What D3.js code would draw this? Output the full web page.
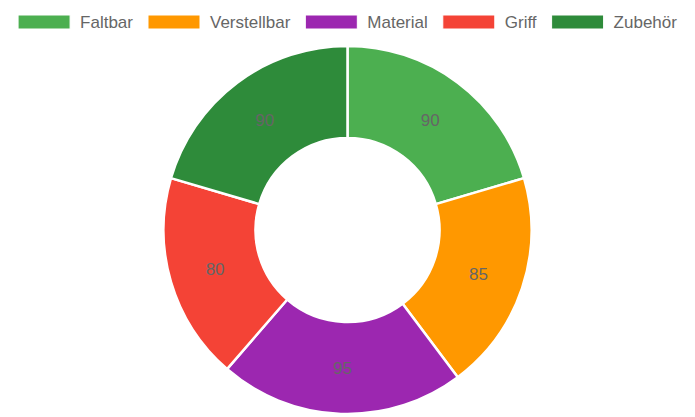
<!DOCTYPE html>
<html><head><meta charset="utf-8">
<script src="https://cdn.jsdelivr.net/npm/d3@7"></script>
<style>html,body{margin:0;padding:0;background:#fff;}svg{display:block;}</style>
</head><body>
<svg id="c" width="695" height="417"></svg>
<script>
const categories = ["Faltbar", "Verstellbar", "Material", "Griff", "Zubehör"];
const values = [90, 85, 95, 80, 90];
const colors = ["#4CAF50", "#FF9800", "#9C27B0", "#F44336", "#2E8B3A"];

const W = 695, H = 417;
const svg = d3.select("#c");
const font = "'Liberation Sans', Arial, Helvetica, sans-serif";

// Legend
const legend = svg.append("g");
const boxW = 52, boxH = 14, textGap = 10, itemGap = 15, legendY = 15;
const items = legend.selectAll("g").data(categories).join("g");
items.append("rect").attr("width", boxW).attr("height", boxH)
  .attr("fill", (d, i) => colors[i]).attr("stroke", "#fff").attr("stroke-width", 1);
items.append("text").text(d => d).attr("x", boxW + textGap).attr("y", boxH / 2)
  .attr("dy", "0.36em").attr("font-family", font).attr("font-size", 17).attr("fill", "#666");
let x = 0; const xs = [];
items.each(function () {
  const tw = d3.select(this).select("text").node().getComputedTextLength();
  xs.push(x); x += boxW + textGap + tw + itemGap;
});
const total = x - itemGap;
const startX = (W - total) / 2;
items.attr("transform", (d, i) => `translate(${startX + xs[i]},${legendY})`);

// Donut
const cx = 347.5, cy = 230, outerR = 184, innerR = 92;
const pie = d3.pie().sort(null).value(d => d)(values);
const arc = d3.arc().innerRadius(innerR).outerRadius(outerR);
const labelArc = d3.arc().innerRadius((innerR + outerR) / 2).outerRadius((innerR + outerR) / 2);
const g = svg.append("g").attr("transform", `translate(${cx},${cy})`);
g.selectAll("path").data(pie).join("path")
  .attr("d", arc).attr("fill", (d, i) => colors[i])
  .attr("stroke", "#fff").attr("stroke-width", 2.5).attr("stroke-linejoin", "round");
g.selectAll("text").data(pie).join("text")
  .attr("transform", d => `translate(${labelArc.centroid(d)})`)
  .attr("text-anchor", "middle").attr("dy", "0.36em")
  .attr("font-family", font).attr("font-size", 17).attr("fill", "#666")
  .text(d => d.data);
</script>
</body></html>
